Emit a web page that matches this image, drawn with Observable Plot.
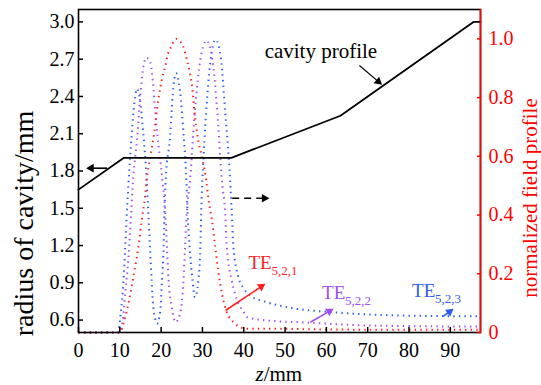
<!DOCTYPE html>
<html><head><meta charset="utf-8">
<script src="https://cdn.jsdelivr.net/npm/d3@7"></script>
<script src="https://cdn.jsdelivr.net/npm/@observablehq/plot@0.6"></script>
<style>html,body{margin:0;padding:0;background:#fff} svg text{font-family:'Liberation Serif','Times New Roman',Times,serif !important}</style>
</head><body><div id="chart"></div>
<script>
// ---- axes ----
const zDomain = [0, 97.3];
const radiusDomain = [0.5, 3.1];
const fieldDomain = [0, 1.1];
const zTicks = [0, 10, 20, 30, 40, 50, 60, 70, 80, 90];
const radiusTicks = [0.6, 0.9, 1.2, 1.5, 1.8, 2.1, 2.4, 2.7, 3.0];
const fieldTicks = [0, 0.2, 0.4, 0.6, 0.8, 1.0];

// ---- cavity profile (radius, mm) ----
const cavityZ = [0, 11.0, 37.0, 63.4, 95.6, 97.3];
const cavityR = [1.65, 1.906, 1.906, 2.245, 3.0, 3.0];

// ---- normalized field profiles ----
const te521Z = [0, 10.0, 10.5, 11.7, 12.7, 13.7, 14.5, 15.3, 16.1, 16.5, 17.4, 18.3, 19.3, 20.2, 21.0, 21.7, 22.5, 23.6, 24.6, 25.3, 26.2, 26.9, 27.5, 28.1, 28.9, 30.0, 30.9, 31.5, 32.3, 33.1, 33.9, 34.7, 35.9, 37.5, 39.2, 40.8, 45.6, 61.7, 97.3];
const te521F = [0, 0, 0.014, 0.075, 0.143, 0.223, 0.291, 0.382, 0.462, 0.519, 0.6, 0.678, 0.792, 0.862, 0.908, 0.951, 0.975, 1.0, 0.991, 0.976, 0.93, 0.888, 0.837, 0.746, 0.661, 0.59, 0.519, 0.45, 0.382, 0.291, 0.201, 0.133, 0.069, 0.035, 0.018, 0.013, 0.013, 0.01, 0.009];

const te522Z = [0, 10.0, 10.5, 11.3, 12.1, 12.7, 13.1, 14.3, 14.9, 15.6, 16.4, 17.2, 18.0, 18.6, 19.1, 20.3, 21.0, 21.4, 21.8, 22.6, 23.5, 24.6, 25.4, 25.8, 26.2, 27.0, 28.2, 29.5, 31.0, 32.4, 33.6, 34.7, 35.5, 35.9, 37.1, 38.4, 40.0, 40.8, 45.6, 53.7, 69.9, 97.3];
const te522F = [0, 0, 0.018, 0.133, 0.257, 0.394, 0.496, 0.678, 0.798, 0.894, 0.936, 0.928, 0.854, 0.746, 0.672, 0.519, 0.406, 0.291, 0.177, 0.086, 0.035, 0.065, 0.177, 0.291, 0.406, 0.519, 0.76, 0.93, 0.994, 0.93, 0.75, 0.519, 0.406, 0.291, 0.177, 0.109, 0.069, 0.052, 0.041, 0.035, 0.024, 0.02];

const te523Z = [0, 9.6, 10.2, 10.9, 11.3, 11.7, 12.1, 12.9, 13.5, 14.2, 14.9, 15.6, 16.5, 16.9, 17.3, 17.7, 18.1, 18.5, 19.0, 19.8, 20.2, 20.6, 20.8, 21.1, 22.2, 22.8, 23.6, 24.3, 24.8, 25.3, 26.1, 26.4, 26.9, 27.6, 28.2, 29.0, 29.5, 29.7, 30.0, 30.9, 31.9, 33.2, 34.5, 35.5, 36.7, 37.1, 37.5, 38.7, 40.0, 41.5, 45.6, 50.5, 61.7, 77.9, 97.3];
const te523F = [0, 0, 0.065, 0.177, 0.291, 0.406, 0.507, 0.68, 0.78, 0.83, 0.79, 0.69, 0.519, 0.406, 0.291, 0.177, 0.086, 0.05, 0.03, 0.075, 0.177, 0.291, 0.406, 0.519, 0.672, 0.81, 0.883, 0.85, 0.79, 0.70, 0.519, 0.406, 0.291, 0.177, 0.12, 0.177, 0.291, 0.406, 0.519, 0.75, 0.92, 0.997, 0.93, 0.75, 0.519, 0.406, 0.291, 0.189, 0.15, 0.126, 0.103, 0.086, 0.069, 0.058, 0.055];

// ---- annotations (data space: z, radius axis) ----
const modeColors = ["#ff1f1f", "#a04ff2", "#2f5cf2"];
const modeMain = ["TE", "TE", "TE"];
const modeSub = ["5,2,1", "5,2,2", "5,2,3"];
const modeLabelZ = [41.13, 58.96, 80.74];
const modeLabelR = [1.064, 0.820, 0.833];
const modeArrowZ1 = [35.57, 56.13, 88.24];
const modeArrowR1 = [0.677, 0.583, 0.629];
const modeArrowZ2 = [45.25, 61.77, 90.81];
const modeArrowR2 = [0.892, 0.691, 0.691];

const cavityLabel = "cavity profile";
const cavityLabelZ = 58.67, cavityLabelR = 2.765;
const blackArrowZ1 = [67.99, 6.94, 37.2];
const blackArrowR1 = [2.649, 1.8226, 1.581];
const blackArrowZ2 = [73.48, 1.86, 46.2];
const blackArrowR2 = [2.494, 1.8226, 1.581];
const blackArrowDash = [null, null, "7,5"];

const xTitleA = "z", xTitleB = "/mm";
const yTitle = "radius of cavity/mm";
const y2Title = "normalized field profile";

// ---- layout ----
const W = 541, H = 385, mL = 78, mR = 61, mT = 9, mB = 53;

// ---- helpers ----
const toRadius = f => radiusDomain[0] + (f - fieldDomain[0]) * (radiusDomain[1] - radiusDomain[0]) / (fieldDomain[1] - fieldDomain[0]);
const toField = r => fieldDomain[0] + (r - radiusDomain[0]) * (fieldDomain[1] - fieldDomain[0]) / (radiusDomain[1] - radiusDomain[0]);
const rows = (zs, vs) => zs.map((z, i) => ({z, v: vs[i]}));

const cavity = rows(cavityZ, cavityR);
const fields = [rows(te521Z, te521F), rows(te522Z, te522F), rows(te523Z, te523F)];
const modes = modeMain.map((m, i) => ({main: m, sub: modeSub[i], color: modeColors[i], z: modeLabelZ[i], r: modeLabelR[i]}));

// arrows with filled heads, positioned through Plot's own scales
const sx = Plot.scale({x: {domain: zDomain, range: [mL, W - mR]}});
const sy = Plot.scale({y: {domain: radiusDomain, range: [H - mB, mT]}});
const headH = 7.5;
function makeArrow(z1, r1, z2, r2, color, dash, width) {
  const px1 = sx.apply(z1), py1 = sy.apply(r1), px2 = sx.apply(z2), py2 = sy.apply(r2);
  const len = Math.hypot(px2 - px1, py2 - py1), ux = (px2 - px1) / len, uy = (py2 - py1) / len;
  const cx = px2 - ux * headH * 2 / 3, cy = py2 - uy * headH * 2 / 3;
  const bx = px2 - ux * headH * 0.9, by = py2 - uy * headH * 0.9;
  return {
    z1, r1, color, dash, width,
    zs: sx.invert(bx), rs: sy.invert(by),
    zh: sx.invert(cx), rh: sy.invert(cy),
    angle: Math.atan2(ux, -uy) * 180 / Math.PI
  };
}
const arrows = [
  ...modeColors.map((c, i) => makeArrow(modeArrowZ1[i], modeArrowR1[i], modeArrowZ2[i], modeArrowR2[i], c, null, 1.6)),
  ...blackArrowZ1.map((z, i) => makeArrow(z, blackArrowR1[i], blackArrowZ2[i], blackArrowR2[i], "#000", blackArrowDash[i], i === 0 ? 1.2 : 1.6))
];
const headSize = headH / 3; // distance centroid-base of d3 triangle
const headR = Math.sqrt(3 * Math.sqrt(3) * headSize * headSize / Math.PI);

const serif = "'Liberation Serif', 'Times New Roman', Times, serif";
const dots = "1.4,4.2";

const fieldMarks = [2, 1, 0].map(i => Plot.line(fields[i], {
  x: "z", y: d => toRadius(d.v), stroke: modeColors[i], strokeWidth: 2,
  strokeDasharray: dots, strokeLinecap: "butt", curve: "monotone-x"
}));

const chart = Plot.plot({
  width: W, height: H,
  marginLeft: mL, marginRight: mR, marginTop: mT, marginBottom: mB,
  style: {fontFamily: serif, fontSize: "20px", background: "#fff", color: "#000", overflow: "visible"},
  x: {domain: zDomain},
  y: {domain: radiusDomain},
  marks: [
    ...fieldMarks,
    Plot.line(cavity, {x: "z", y: "v", stroke: "#000", strokeWidth: 1.8}),
    Plot.frame({stroke: "#000", strokeWidth: 1.6}),
    Plot.ruleX([zDomain[1]], {stroke: "#ff0000", strokeWidth: 1.6}),
    Plot.axisX(zTicks, {anchor: "bottom", tickSize: -5, tickPadding: 15, fontSize: 20, fontFamily: serif, strokeWidth: 1.5, tickFormat: d => String(d), label: null}),
    Plot.axisY(radiusTicks, {anchor: "left", tickSize: -5, tickPadding: 9, fontSize: 20, fontFamily: serif, strokeWidth: 1.5, tickFormat: d => d.toFixed(1), label: null}),
    Plot.axisY(fieldTicks.map(toRadius), {anchor: "right", tickSize: -4, tickPadding: 12, fontSize: 20, fontFamily: serif, color: "#ff0000", strokeWidth: 1.5,
      tickFormat: d => { const f = toField(d); return Math.abs(f) < 1e-6 ? "0" : f.toFixed(1); }, label: null}),
    // mode labels
    Plot.text(modes, {x: "z", y: "r", text: "main", fill: "color", textAnchor: "start", fontSize: 19, fontFamily: serif}),
    Plot.text(modes, {x: "z", y: "r", text: "sub", fill: "color", textAnchor: "start", fontSize: 13, fontFamily: serif, dx: 23, dy: 8}),
    // cavity label
    Plot.text([cavityLabel], {x: cavityLabelZ, y: cavityLabelR, text: d => d, fontSize: 21, fontFamily: serif, fill: "#000"}),
    // arrows (shaft + filled head)
    ...arrows.map(a => Plot.link([a], {x1: "z1", y1: "r1", x2: "zs", y2: "rs", stroke: a.color, strokeWidth: a.width, strokeDasharray: a.dash || undefined})),
    Plot.dot(arrows, {x: "zh", y: "rh", symbol: "triangle", r: headR, rotate: "angle", fill: "color", stroke: null}),
    // axis titles
    Plot.text([xTitleA], {frameAnchor: "bottom", text: d => d, textAnchor: "end", lineAnchor: "middle", fontStyle: "italic", fontSize: 21, fontFamily: serif, dx: -15.8, dy: 42, fill: "#000"}),
    Plot.text([xTitleB], {frameAnchor: "bottom", text: d => d, textAnchor: "start", lineAnchor: "middle", fontSize: 21, fontFamily: serif, dx: -15.8, dy: 42, fill: "#000"}),
    Plot.text([yTitle], {frameAnchor: "left", text: d => d, textAnchor: "middle", lineAnchor: "middle", rotate: -90, fontSize: 28, fontFamily: serif, dx: -54, dy: 52.5, fill: "#000"}),
    Plot.text([y2Title], {frameAnchor: "right", text: d => d, textAnchor: "middle", lineAnchor: "middle", rotate: -90, fontSize: 21, fontFamily: serif, dx: 49.3, dy: 27, fill: "#ff0000"})
  ]
});
chart.querySelectorAll("text").forEach(t => { t.style.fontFamily = serif; t.style.fontVariant = "normal"; });
document.getElementById("chart").appendChild(chart);
</script></body></html>
